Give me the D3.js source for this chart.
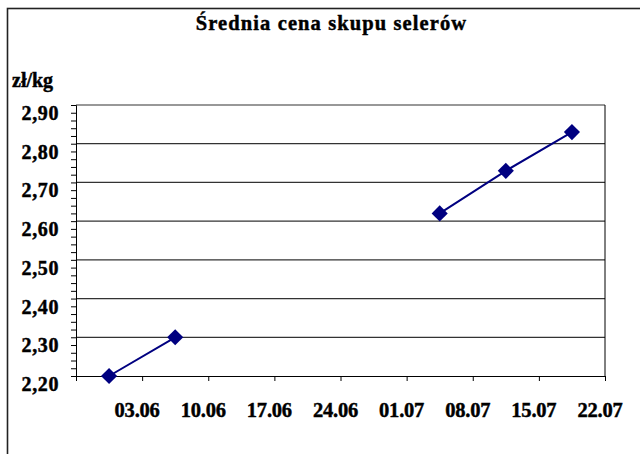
<!DOCTYPE html>
<html>
<head>
<meta charset="utf-8">
<script src="https://cdn.jsdelivr.net/npm/d3@7"></script>
<style>
  body { margin: 0; background: #fff; }
  text { font-family: "Liberation Serif", "Times New Roman", serif; font-weight: bold; fill: #000; stroke: #000; stroke-width: 0.45px; }
</style>
</head>
<body>
<svg id="chart"></svg>
<script>
// weekly observations, missing weeks kept as null
const dates = ["2002-05-30", "2002-06-06", "2002-06-13", "2002-06-20", "2002-06-27", "2002-07-04", "2002-07-11", "2002-07-18"];
const prices = [2.20, 2.30, null, null, null, 2.62, 2.73, 2.83];
const yTicks = [2.2, 2.3, 2.4, 2.5, 2.6, 2.7, 2.8, 2.9];
const xDomain = ["2002-05-27", "2002-07-22"];
const title = "Średnia cena skupu selerów";
const unit = "zł/kg";

const width = 640, height = 454;
const plot = { left: 76, right: 605, top: 105, bottom: 376 };

const parse = d3.timeParse("%Y-%m-%d");
const data = dates.map((d, i) => ({ date: d3.timeHour.offset(parse(d), 12), value: prices[i] }));

const svg = d3.select("#chart")
  .attr("width", width)
  .attr("height", height);

// outer chart border (runs off right and bottom)
svg.append("rect")
  .attr("x", 7.5).attr("y", 8.5)
  .attr("width", 700).attr("height", 500)
  .attr("fill", "none")
  .attr("stroke", "#222")
  .attr("stroke-width", 1.6);

const x = d3.scaleTime()
  .domain(xDomain.map(parse))
  .range([plot.left, plot.right]);

const y = d3.scaleLinear()
  .domain([2.2, 2.9])
  .range([plot.bottom, plot.top]);

// gridlines
svg.append("g")
  .selectAll("line")
  .data(yTicks.slice(1))
  .join("line")
    .attr("x1", plot.left).attr("x2", plot.right)
    .attr("y1", d => y(d)).attr("y2", d => y(d))
    .attr("stroke", "#333")
    .attr("stroke-width", 1.2);

// right border of plot
svg.append("line")
  .attr("x1", plot.right).attr("x2", plot.right)
  .attr("y1", plot.top).attr("y2", plot.bottom)
  .attr("stroke", "#000");

// y axis with minor ticks
const yMinor = d3.range(2.2, 2.9001, 0.02);
svg.append("g")
  .attr("transform", `translate(${plot.left},0)`)
  .call(d3.axisLeft(y).tickValues(yMinor).tickSize(5).tickFormat(""))
  .call(g => g.selectAll("line, path").attr("stroke", "#000"));

svg.append("g")
  .selectAll("text")
  .data(yTicks)
  .join("text")
    .attr("x", 59)
    .attr("y", d => y(d) + 15)
    .attr("text-anchor", "end")
    .attr("font-size", 20)
    .attr("letter-spacing", 0.6)
    .text(d => d3.format(".2f")(d).replace(".", ","));

// x axis, a tick every 7 days from the start
const start = parse(xDomain[0]), end = parse(xDomain[1]);
const xTicks = d3.range(0, d3.timeDay.count(start, end) + 1, 7).map(n => d3.timeDay.offset(start, n));
svg.append("g")
  .attr("transform", `translate(0,${plot.bottom})`)
  .call(d3.axisBottom(x).tickValues(xTicks).tickSize(5).tickFormat(""))
  .call(g => g.selectAll("line, path").attr("stroke", "#000"));

svg.append("g")
  .selectAll("text")
  .data(xTicks.slice(1))
  .join("text")
    .attr("x", d => x(d) - 5)
    .attr("y", 417)
    .attr("text-anchor", "middle")
    .attr("font-size", 20.5)
    .attr("letter-spacing", -0.2)
    .text(d => d3.timeFormat("%d.%m")(d));

// series
const line = d3.line()
  .defined(d => d.value != null)
  .x(d => x(d.date))
  .y(d => y(d.value));

svg.append("path")
  .datum(data)
  .attr("fill", "none")
  .attr("stroke", "#000080")
  .attr("stroke-width", 2)
  .attr("d", line);

svg.append("g")
  .selectAll("path")
  .data(data.filter(d => d.value != null))
  .join("path")
    .attr("transform", d => `translate(${x(d.date)},${y(d.value)}) rotate(45)`)
    .attr("d", d3.symbol(d3.symbolSquare, 130))
    .attr("fill", "#000080");

// titles
svg.append("text")
  .attr("x", 331.5)
  .attr("y", 30)
  .attr("text-anchor", "middle")
  .attr("font-size", 20.5)
  .attr("letter-spacing", 1.1)
  .text(title);

svg.append("text")
  .attr("x", 12)
  .attr("y", 86.5)
  .attr("font-size", 20)
  .text(unit);
</script>
</body>
</html>
